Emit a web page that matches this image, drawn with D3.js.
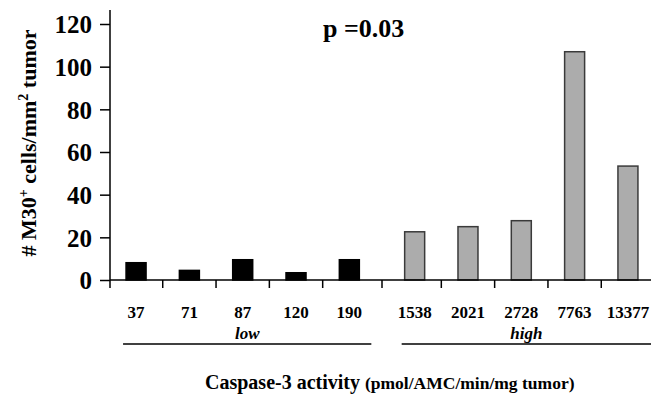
<!DOCTYPE html>
<html>
<head>
<meta charset="utf-8">
<script src="https://cdn.jsdelivr.net/npm/d3@7"></script>
<style>
  body { margin: 0; background: #fff; }
  svg { display: block; }
  svg text { font-family: "Liberation Serif", "Times New Roman", serif; font-weight: bold; fill: #000; }
</style>
</head>
<body>
<svg width="651" height="396"></svg>
<script>
// data
const categories = ["37", "71", "87", "120", "190", "1538", "2021", "2728", "7763", "13377"];
const groups = ["low", "low", "low", "low", "low", "high", "high", "high", "high", "high"];
const values = [8.1, 4.5, 9.5, 3.4, 9.5, 22.6, 25, 27.8, 107, 53.4];
const yTicks = [0, 20, 40, 60, 80, 100, 120];
const groupNames = ["low", "high"];

const svg = d3.select("svg");
const W = 651, H = 396;
const plotLeft = 110, plotBottom = 280, plotTop = 24;
const groupGap = 12;

// scales
const x = d3.scaleBand()
    .domain(categories)
    .range([109, 643])
    .paddingInner(0.625)
    .paddingOuter(0.32);

const y = d3.scaleLinear()
    .domain([0, 120])
    .range([plotBottom, plotTop]);

// bar left edge including the gap between groups
function barX(i) {
    return x(categories[i]) + (groups[i] === "high" ? groupGap : 0);
}
function barCenter(i) {
    return barX(i) + x.bandwidth() / 2;
}

// bars
svg.append("g").selectAll("rect")
    .data(values)
  .enter()
  .append("rect")
    .attr("x", (d, i) => barX(i))
    .attr("y", d => y(d))
    .attr("width", x.bandwidth())
    .attr("height", d => plotBottom - y(d))
    .attr("fill", (d, i) => groups[i] === "low" ? "#000" : "#acacac")
    .attr("stroke", (d, i) => groups[i] === "low" ? "#000" : "#3a3a3a")
    .attr("stroke-width", 1.5);

// y axis
const yAxis = svg.append("g")
    .attr("transform", `translate(${plotLeft},0)`)
    .call(d3.axisLeft(y).tickValues(yTicks).tickSize(10).tickPadding(8));
yAxis.select(".domain").remove();
yAxis.append("line")
    .attr("x1", 0).attr("x2", 0)
    .attr("y1", 10).attr("y2", plotBottom)
    .attr("stroke", "#000").attr("stroke-width", 1.5);
yAxis.selectAll(".tick line").attr("stroke", "#000").attr("stroke-width", 1.5);
yAxis.selectAll(".tick text")
    .style("font-size", "25px")
    .attr("dy", "0.35em");

// x axis line and ticks between bars
svg.append("line")
    .attr("x1", plotLeft).attr("x2", W)
    .attr("y1", plotBottom).attr("y2", plotBottom)
    .attr("stroke", "#000").attr("stroke-width", 1.5);

const tickPos = [plotLeft];
for (let i = 0; i < categories.length - 1; i++) {
    tickPos.push((barCenter(i) + barCenter(i + 1)) / 2);
}
svg.append("g").selectAll("line")
    .data(tickPos)
  .enter()
  .append("line")
    .attr("x1", d => d).attr("x2", d => d)
    .attr("y1", plotBottom).attr("y2", plotBottom + 8)
    .attr("stroke", "#000").attr("stroke-width", 1.5);

// category labels
svg.append("g").selectAll("text")
    .data(categories)
  .enter()
  .append("text")
    .attr("x", (d, i) => barCenter(i))
    .attr("y", 318)
    .attr("text-anchor", "middle")
    .style("font-size", "17px")
    .text(d => d);

// group brackets
groupNames.forEach(g => {
    const idx = groups.map((v, i) => v === g ? i : -1).filter(i => i >= 0);
    const x0 = barX(idx[0]) - 3;
    const x1 = g === "high" ? W : barX(idx[idx.length - 1]) + x.bandwidth() + 12;
    svg.append("line")
        .attr("x1", x0).attr("x2", x1)
        .attr("y1", 344).attr("y2", 344)
        .attr("stroke", "#000").attr("stroke-width", 1.5);
    svg.append("text")
        .attr("x", (x0 + x1) / 2)
        .attr("y", 339)
        .attr("text-anchor", "middle")
        .style("font-style", "italic")
        .style("font-size", "17px")
        .text(g);
});

// x axis title
const xt = svg.append("text")
    .attr("x", 205)
    .attr("y", 389);
xt.append("tspan").style("font-size", "20px").text("Caspase-3 activity ");
xt.append("tspan").style("font-size", "17.5px").text("(pmol/AMC/min/mg tumor)");

// y axis title
const yt = svg.append("text")
    .attr("transform", "translate(36,143) rotate(-90)")
    .attr("text-anchor", "middle")
    .style("font-size", "22px");
yt.append("tspan").text("# M30");
yt.append("tspan").attr("dy", -8).style("font-size", "14px").text("+");
yt.append("tspan").attr("dy", 8).text(" cells/mm");
yt.append("tspan").attr("dy", -8).style("font-size", "14px").text("2");
yt.append("tspan").attr("dy", 8).text(" tumor");

// p value
svg.append("text")
    .attr("x", 323)
    .attr("y", 37)
    .style("font-size", "26px")
    .text("p =0.03");
</script>
</body>
</html>
